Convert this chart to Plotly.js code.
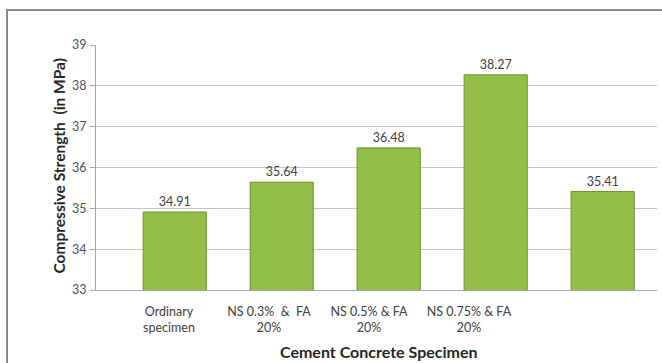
<!DOCTYPE html>
<html>
<head>
<meta charset="utf-8">
<script src="https://cdn.plot.ly/plotly-3.0.1.min.js"></script>
<style>
  html, body { margin: 0; padding: 0; background: #ffffff; overflow: hidden; }
  #wrap { position: relative; width: 662px; height: 363px; overflow: hidden; }
  #frame { position: absolute; left: 6px; top: 9px; width: 720px; height: 420px;
           border: 2px solid #8a8a8a; box-sizing: border-box; }
  #chart { position: absolute; left: 0; top: 0; width: 662px; height: 363px; }
</style>
</head>
<body>
<div id="wrap">
  <div id="frame"></div>
  <div id="chart"></div>
</div>
<script>
// Compressive strength of each cement concrete specimen (MPa)
const specimens = ['Ordinary specimen', 'NS 0.3% & FA 20%', 'NS 0.5% & FA 20%', 'NS 0.75% & FA 20%', ''];
const strength = [34.91, 35.64, 36.48, 38.27, 35.41];
const tickLabels = ['Ordinary<br>specimen', 'NS 0.3%  &  FA<br>20%', 'NS 0.5% & FA<br>20%', 'NS 0.75% & FA<br>20%'];
const yTicks = [33, 34, 35, 36, 37, 38, 39];
const xTitle = 'Cement Concrete Specimen';
const yTitle = 'Compressive Strength  (in MPa)';

const barIdx = specimens.map((_, i) => i);
const labelIdx = tickLabels.map((_, i) => i);

const font = 'Lato, "Open Sans", sans-serif';

const bars = {
  type: 'bar',
  x: barIdx,
  y: strength,
  base: 0,
  width: 0.59,
  marker: { color: '#93bf49', line: { color: '#6a8f2e', width: 1 } },
  text: strength.map(v => v.toFixed(2)),
  textposition: 'outside',
  cliponaxis: false,
  textfont: { family: font, size: 12.5, color: '#404040' },
  hoverinfo: 'skip',
  xaxis: 'x',
  yaxis: 'y'
};

// carrier trace for the category label axis
const labelCarrier = {
  type: 'scatter',
  mode: 'markers',
  x: labelIdx,
  y: labelIdx.map(() => 33),
  marker: { opacity: 0 },
  hoverinfo: 'skip',
  showlegend: false,
  xaxis: 'x2',
  yaxis: 'y'
};

const layout = {
  width: 662,
  height: 363,
  margin: { l: 96, r: 5, t: 45, b: 73 },
  paper_bgcolor: 'rgba(0,0,0,0)',
  plot_bgcolor: 'rgba(0,0,0,0)',
  showlegend: false,
  font: { family: font, color: '#404040' },
  xaxis: {
    range: [-0.736, 4.508],
    showticklabels: false,
    ticks: '',
    showgrid: false,
    zeroline: false,
    showline: true,
    linecolor: '#a6a6a6',
    linewidth: 1,
    fixedrange: true
  },
  xaxis2: {
    overlaying: 'x',
    side: 'bottom',
    range: [-0.73, 4.88],
    tickmode: 'array',
    tickvals: labelIdx,
    ticktext: tickLabels,
    ticks: '',
    ticklabelstandoff: 12,
    showgrid: false,
    zeroline: false,
    showline: false,
    tickfont: { family: font, size: 12.5, color: '#404040' },
    fixedrange: true
  },
  yaxis: {
    range: [33, 39],
    tickvals: yTicks,
    ticks: 'outside',
    ticklen: 5,
    tickcolor: '#a6a6a6',
    ticklabelstandoff: 1,
    showgrid: true,
    gridcolor: '#c4c4c4',
    gridwidth: 1,
    zeroline: false,
    showline: true,
    linecolor: '#a6a6a6',
    linewidth: 1,
    tickfont: { family: font, size: 12.5, color: '#505050' },
    fixedrange: true
  },
  // axis titles, pinned to the plot edges
  annotations: [
    {
      xref: 'paper', yref: 'paper', x: 0.5, y: 0,
      xanchor: 'center', yanchor: 'middle', yshift: -61, xshift: 2,
      text: '<b>' + xTitle + '</b>', showarrow: false,
      font: { family: font, size: 16, color: '#262626' }
    },
    {
      xref: 'paper', yref: 'paper', x: 0, y: 0.5,
      xanchor: 'center', yanchor: 'middle', xshift: -38, yshift: 1,
      textangle: -90,
      text: '<b>' + yTitle + '</b>', showarrow: false,
      font: { family: font, size: 15.5, color: '#262626' }
    }
  ]
};

Plotly.newPlot('chart', [bars, labelCarrier], layout, { staticPlot: true, displayModeBar: false });
</script>
</body>
</html>
